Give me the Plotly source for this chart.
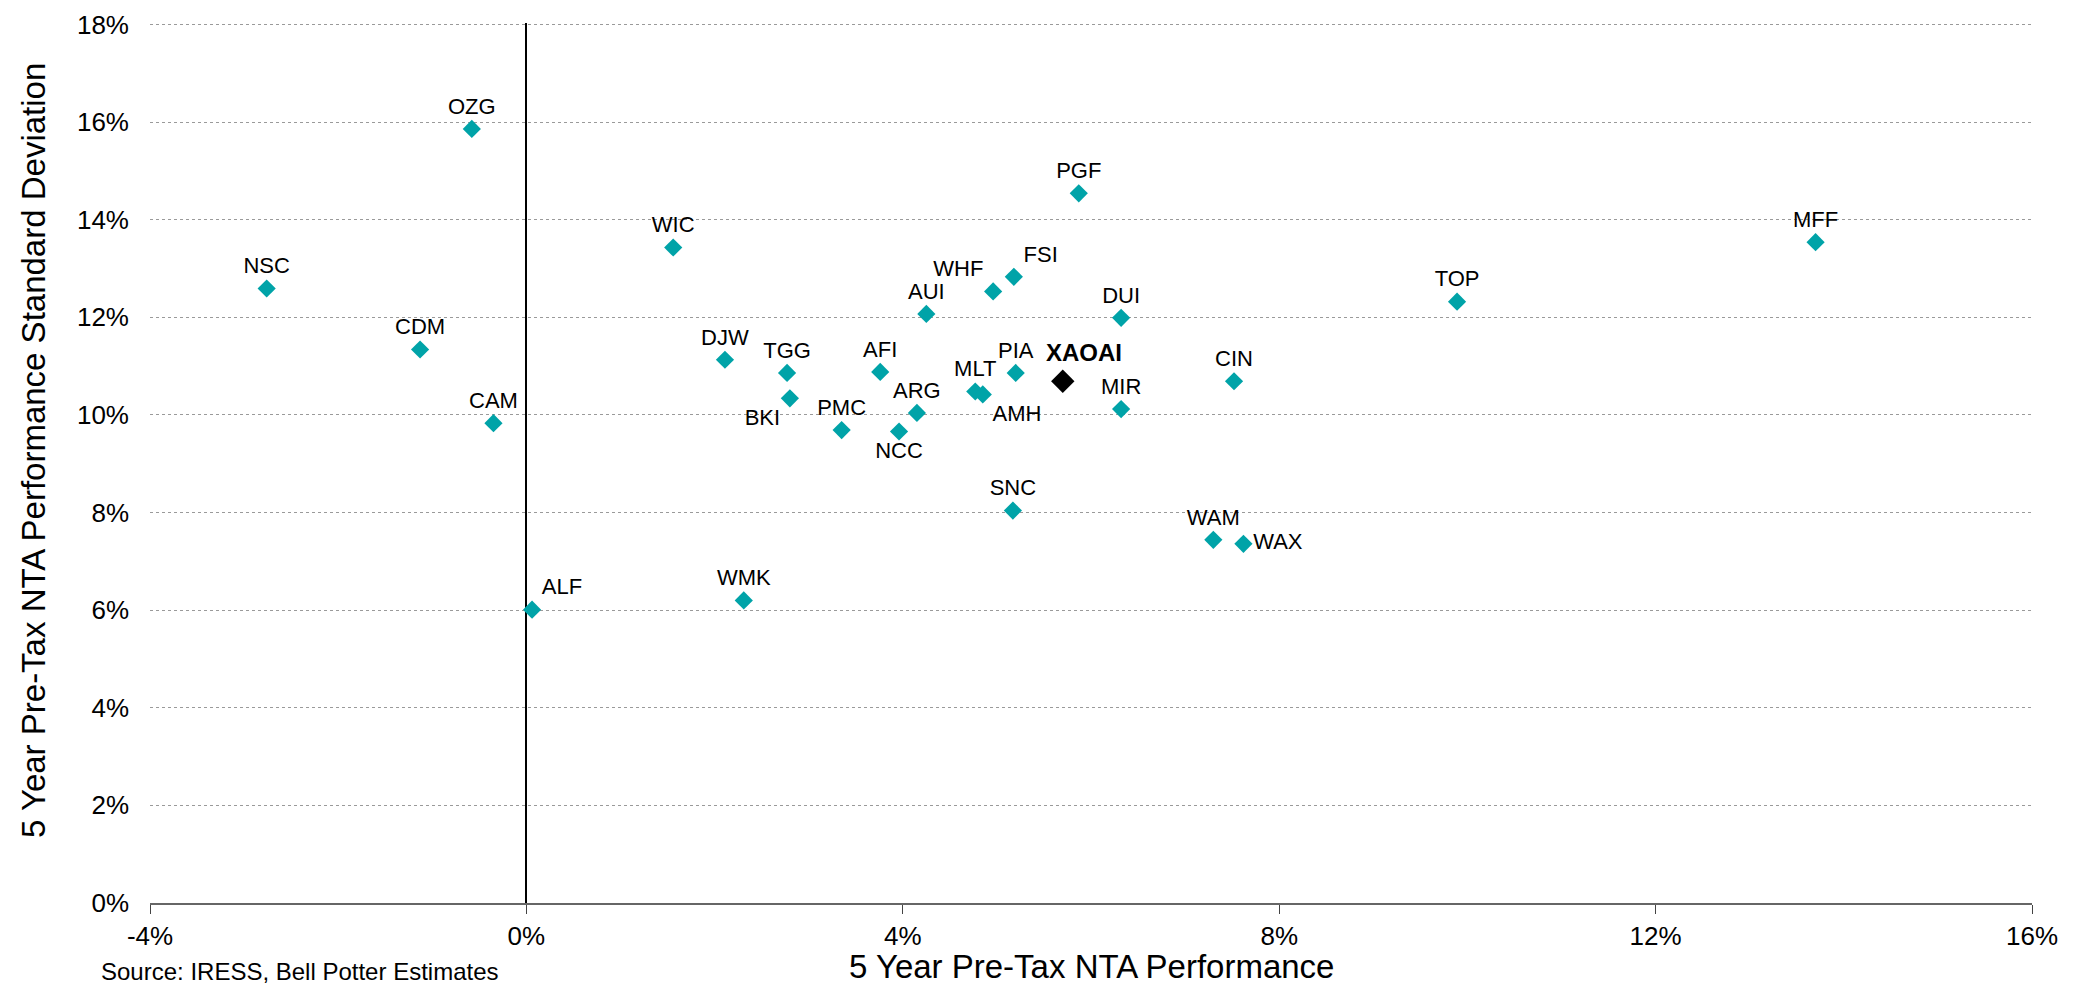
import plotly.graph_objects as go

# 5 year pre-tax NTA performance (x, %) vs standard deviation (y, %)
codes = ['OZG', 'NSC', 'CDM', 'CAM', 'ALF', 'WIC', 'DJW', 'WMK', 'TGG', 'BKI',
         'PMC', 'AFI', 'NCC', 'ARG', 'AUI', 'MLT', 'AMH', 'WHF', 'FSI', 'PIA',
         'SNC', 'PGF', 'DUI', 'MIR', 'WAM', 'WAX', 'CIN', 'TOP', 'MFF']
perf = [-0.58, -2.76, -1.13, -0.35, 0.06, 1.56, 2.11, 2.31, 2.77, 2.80,
        3.35, 3.76, 3.96, 4.15, 4.25, 4.77, 4.85, 4.96, 5.18, 5.20,
        5.17, 5.87, 6.32, 6.32, 7.30, 7.62, 7.52, 9.89, 13.70]
stdev = [15.86, 12.59, 11.34, 9.83, 6.01, 13.43, 11.13, 6.20, 10.86, 10.34,
         9.69, 10.88, 9.66, 10.04, 12.07, 10.48, 10.42, 12.53, 12.83, 10.86,
         8.04, 14.54, 11.99, 10.12, 7.44, 7.36, 10.69, 12.32, 13.54]
label_pos = ['top center'] * len(codes)
label_pos[codes.index('ALF')] = 'top right'
label_pos[codes.index('BKI')] = 'bottom left'
label_pos[codes.index('NCC')] = 'bottom center'
label_pos[codes.index('AMH')] = 'bottom right'
label_pos[codes.index('FSI')] = 'top right'
label_pos[codes.index('WAX')] = 'middle right'
label_pos[codes.index('WHF')] = 'top left'

xaoai_name = 'XAOAI'
xaoai_perf = [5.70]
xaoai_stdev = [10.69]

x_ticks = [-4, 0, 4, 8, 12, 16]
x_tick_text = ['-4%', '0%', '4%', '8%', '12%', '16%']
y_ticks = [0, 2, 4, 6, 8, 10, 12, 14, 16, 18]
y_tick_text = ['0%', '2%', '4%', '6%', '8%', '10%', '12%', '14%', '16%', '18%']

teal = '#00A3A8'
fnt = 'Liberation Sans, Arial, sans-serif'

fig = go.Figure()
fig.add_trace(go.Scatter(
    x=perf, y=stdev, text=codes, mode='markers+text',
    textposition=label_pos,
    textfont=dict(family=fnt, size=22, color='black'),
    marker=dict(symbol='diamond', size=14, color=teal),
    cliponaxis=False, showlegend=False,
))
fig.add_trace(go.Scatter(
    x=xaoai_perf, y=xaoai_stdev, mode='markers',
    marker=dict(symbol='diamond', size=18, color='black'),
    showlegend=False,
))
fig.add_annotation(
    x=xaoai_perf[0], y=xaoai_stdev[0], text='<b>%s</b>' % xaoai_name,
    showarrow=False, xshift=21, yshift=29,
    font=dict(family=fnt, size=24, color='black'),
)

# the page body adds 8px around the figure, so margins are shifted by that
fig.update_layout(
    width=2078, height=986,
    margin=dict(l=142, r=54, t=15, b=91),
    paper_bgcolor='white',
    plot_bgcolor='white',
    font=dict(family=fnt, color='black'),
    xaxis=dict(
        range=[-4, 16], automargin=False,
        tickmode='array', tickvals=x_ticks, ticktext=x_tick_text,
        tickfont=dict(family=fnt, size=26),
        showgrid=False,
        zeroline=True, zerolinecolor='black', zerolinewidth=1.5,
        showline=True, linecolor='#666666', linewidth=2,
        ticks='outside', ticklen=9, tickcolor='#444444',
    ),
    yaxis=dict(
        range=[0, 18.03], automargin=False,
        tickmode='array', tickvals=y_ticks, ticktext=y_tick_text,
        tickfont=dict(family=fnt, size=26),
        ticklabeloverflow='allow',
        showgrid=True, gridcolor='#9a9a9a', gridwidth=1, griddash='dot',
        zeroline=False,
        showline=False,
        ticks='', ticklabelstandoff=20,
    ),
    yaxis2=dict(
        range=[0, 18.03], tickvals=y_ticks, overlaying='y', anchor='free',
        position=0.2, showticklabels=False, showgrid=False, zeroline=False,
        showline=False, ticks='outside', ticklen=6, tickcolor='black',
        automargin=False,
    ),
)

# axis titles
fig.add_annotation(
    text='5 Year Pre-Tax NTA Performance',
    xref='paper', yref='paper', x=0.5, y=-0.072,
    xanchor='center', yanchor='middle', showarrow=False,
    font=dict(family=fnt, size=33),
)
fig.add_annotation(
    text='5 Year Pre-Tax NTA Performance Standard Deviation',
    xref='paper', yref='paper', x=-0.062, y=0.514, textangle=-90,
    xanchor='center', yanchor='middle', showarrow=False,
    font=dict(family=fnt, size=33),
)
fig.add_annotation(
    text='Source: IRESS, Bell Potter Estimates',
    xref='paper', yref='paper', x=-0.027, y=-0.06,
    xanchor='left', yanchor='top', showarrow=False,
    font=dict(family=fnt, size=24),
)

fig.write_html('out.html')
